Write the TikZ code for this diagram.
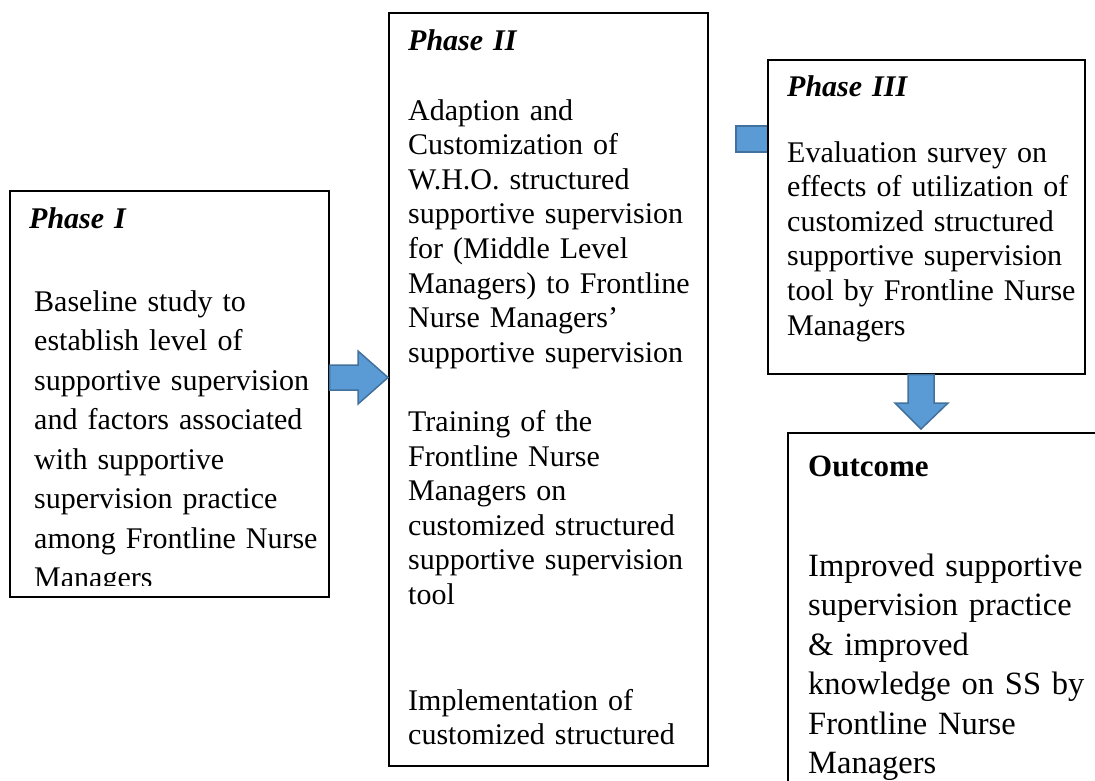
\documentclass[tikz,border=0pt]{standalone}
\usepackage{fontspec}
\setmainfont{Liberation Serif}
\begin{document}
\begin{tikzpicture}[x=1pt,y=-1pt,
  box/.style={draw=black,line width=1.5pt,fill=white,inner sep=0pt,anchor=north west},
  txt/.style={inner sep=0pt,anchor=base west,align=left,font=\fontsize{30}{34.6}\selectfont},
  bigtxt/.style={inner sep=0pt,anchor=base west,align=left,font=\fontsize{32.5}{39.5}\selectfont},
  blockarrow/.style={fill=arrowfill,draw=arrowline,line width=1.5pt,line join=miter}]
\definecolor{arrowfill}{HTML}{5B9BD5}
\definecolor{arrowline}{HTML}{41719C}
\useasboundingbox (0,0) rectangle (1095,780);
% boxes
\node[box,minimum width=319pt,minimum height=406pt] (b1) at (9,190) {};
\node[box,minimum width=319pt,minimum height=753pt] (b2) at (388,12) {};
\fill[arrowfill,draw=arrowline,line width=1.5pt] (736,126) rectangle (770,152);
\node[box,minimum width=317pt,minimum height=314pt] (b3) at (767,59) {};
\node[box,minimum width=330pt,minimum height=380pt] (b4) at (787,432) {};
% texts
\node[txt,text width=290pt] (t1h) at (29,228) {\textbf{\textit{Phase I}}};
\begin{scope}
\clip (b1.north west) rectangle (328,585);
\node[txt,text width=290pt,font=\fontsize{30}{39.5}\selectfont] (t1) at (34,311) {Baseline study to\\establish level of\\supportive supervision\\and factors associated\\with supportive\\supervision practice\\among Frontline Nurse\\Managers};
\end{scope}
\node[txt,text width=290pt] (t2h) at (408,50) {\textbf{\textit{Phase II}}};
\node[txt,text width=290pt] (t2) at (408,120) {Adaption and\\Customization of\\W.H.O. structured\\supportive supervision\\for (Middle Level\\Managers) to Frontline\\Nurse Managers’\\supportive supervision\\[34.6pt]Training of the\\Frontline Nurse\\Managers on\\customized structured\\supportive supervision\\tool\\[71pt]Implementation of\\customized structured};
\node[txt,text width=290pt] (t3h) at (787,96) {\textbf{\textit{Phase III}}};
\node[txt,text width=290pt] (t3) at (787,162) {Evaluation survey on\\effects of utilization of\\customized structured\\supportive supervision\\tool by Frontline Nurse\\Managers};
\node[txt,text width=290pt] (t4h) at (808,476) {\fontsize{31}{36}\selectfont\textbf{Outcome}};
\node[bigtxt,text width=300pt] (t4) at (808,576) {Improved supportive\\supervision practice\\\&\ improved\\knowledge on SS by\\Frontline Nurse\\Managers};
% arrows
\draw[blockarrow] (b1.east |- 0,365) -- (358,365) -- (358,351) -- (b2.west |- 0,377.5) -- (358,404) -- (358,390) -- (b1.east |- 0,390) -- cycle;
\draw[blockarrow] (908,0 |- b3.south) -- (908,403) -- (895,403) -- (921,429) -- (948,403) -- (934,403) -- (934,0 |- b3.south) -- cycle;
\end{tikzpicture}
\end{document}
